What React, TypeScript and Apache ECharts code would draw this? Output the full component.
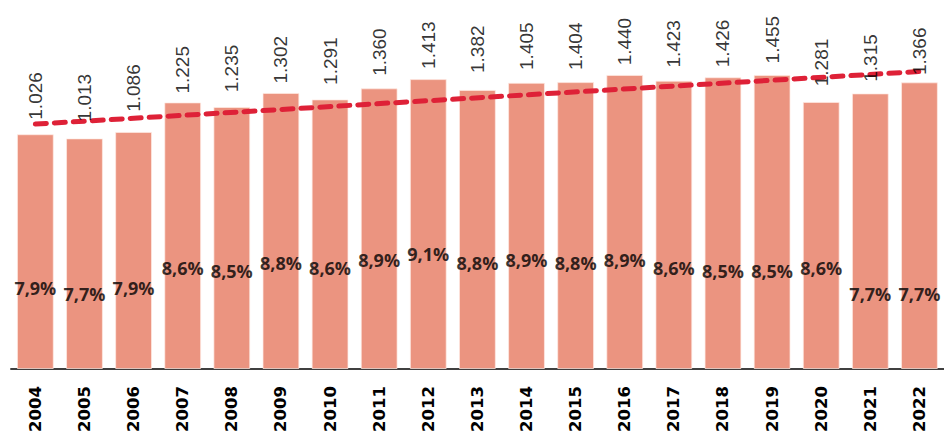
import React, { useEffect, useRef } from 'react';
import * as echarts from 'echarts';

const years = ['2004', '2005', '2006', '2007', '2008', '2009', '2010', '2011', '2012', '2013', '2014', '2015', '2016', '2017', '2018', '2019', '2020', '2021', '2022'];
const barValues = [1018, 1000, 1028, 1156, 1136, 1197, 1169, 1217, 1257, 1210, 1241, 1244, 1275, 1250, 1265, 1275, 1158, 1195, 1243];
const totals = [1026, 1013, 1086, 1225, 1235, 1302, 1291, 1360, 1413, 1382, 1405, 1404, 1440, 1423, 1426, 1455, 1281, 1315, 1366];
const shares = [7.9, 7.7, 7.9, 8.6, 8.5, 8.8, 8.6, 8.9, 9.1, 8.8, 8.9, 8.8, 8.9, 8.6, 8.5, 8.5, 8.6, 7.7, 7.7];
const trendStart = 1062;
const trendEnd = 1290;

const fmtThousands = (v: number) => String(v).replace(/\B(?=(\d{3})+(?!\d))/g, '.');
const fmtPct = (v: number) => v.toFixed(1).replace('.', ',') + '%';

export default function App() {
  const ref = useRef<HTMLDivElement>(null);
  useEffect(() => {
    document.body.style.margin = '0';
    const chart = echarts.init(ref.current!, null, { renderer: 'svg' });
    const trend = years.map((_, i) => (i === 0 ? trendStart : i === years.length - 1 ? trendEnd : null));
    chart.setOption({
      animation: false,
      grid: { left: 10.8, right: -5.4, top: 0, bottom: 67 },
      xAxis: {
        type: 'category',
        data: years,
        axisLine: { lineStyle: { color: '#000', width: 1.5 } },
        axisTick: { show: false },
        axisLabel: {
          interval: 0,
          rotate: 90,
          margin: 17,
          color: '#000',
          fontFamily: 'DejaVu Sans',
          fontWeight: 'bold',
          fontSize: 16.5,
        },
      },
      yAxis: [
        { type: 'value', min: 0, max: 1600, show: false, splitLine: { show: false } },
        { type: 'value', min: -870, max: 1942, show: false, splitLine: { show: false } },
        { type: 'value', min: 5.031, max: 18.116, show: false, splitLine: { show: false } },
      ],
      series: [
        {
          type: 'bar',
          data: barValues,
          yAxisIndex: 0,
          barCategoryGap: '25%',
          itemStyle: { color: '#EB9480', borderColor: 'rgba(255,235,228,0.7)', borderWidth: 1 },
          z: 1,
        },
        {
          type: 'line',
          data: trend,
          yAxisIndex: 0,
          connectNulls: true,
          symbol: 'none',
          lineStyle: { color: '#DE2137', width: 5, type: [11, 8], cap: 'round' },
          z: 3,
        },
        {
          type: 'scatter',
          data: totals,
          yAxisIndex: 1,
          symbolSize: 1,
          itemStyle: { color: 'rgba(0,0,0,0)' },
          label: {
            show: true,
            position: 'top',
            distance: 0,
            rotate: 90,
            align: 'left',
            verticalAlign: 'middle',
            color: '#000',
            fontFamily: 'Liberation Sans',
            fontSize: 19,
            formatter: (p: any) => fmtThousands(p.value),
          },
          z: 4,
        },
        {
          type: 'scatter',
          data: shares,
          yAxisIndex: 2,
          symbolSize: 1,
          itemStyle: { color: 'rgba(0,0,0,0)' },
          label: {
            show: true,
            position: 'inside',
            color: '#000',
            fontFamily: 'Open Sans',
            fontWeight: 'bold',
            fontSize: 18,
            formatter: (p: any) => fmtPct(p.value),
          },
          z: 4,
        },
      ],
    });
    return () => chart.dispose();
  }, []);
  return <div ref={ref} style={{ width: 944, height: 436 }} />;
}
